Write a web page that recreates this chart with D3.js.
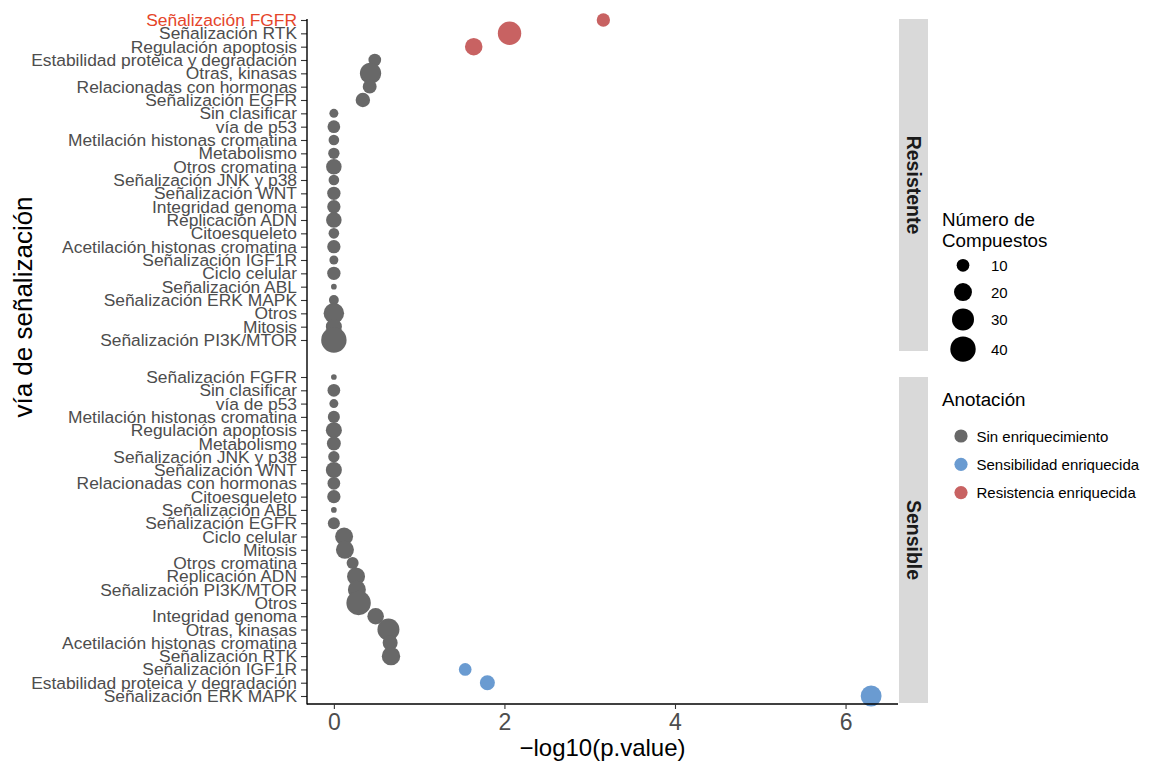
<!DOCTYPE html>
<html><head><meta charset="utf-8">
<script src="https://cdn.jsdelivr.net/npm/d3@7"></script>
<style>
body{margin:0;background:#fff}
svg{display:block}
text{font-family:"Liberation Sans", Arial, Helvetica, sans-serif}
</style>
</head><body>
<svg id="chart" width="1153" height="765"></svg>
<script>
// ---------- data ----------
const resistenteCategories = ["Señalización FGFR","Señalización RTK","Regulación apoptosis","Estabilidad proteica y degradación","Otras, kinasas","Relacionadas con hormonas","Señalización EGFR","Sin clasificar","vía de p53","Metilación histonas cromatina","Metabolismo","Otros cromatina","Señalización JNK y p38","Señalización WNT","Integridad genoma","Replicación ADN","Citoesqueleto","Acetilación histonas cromatina","Señalización IGF1R","Ciclo celular","Señalización ABL","Señalización ERK MAPK","Otros","Mitosis","Señalización PI3K/MTOR"];
const resistenteValues = [3.16,2.06,1.64,0.48,0.43,0.42,0.34,0,0,0,0,0,0,0,0,0,0,0,0,0,0,0,0,0,0];
const resistenteCounts = [11,34,19,10,28,12,13,5,10,7,8,15,7,11,11,15,7,11,5,11,2,6,26,16,40];
const resistenteAnnotation = ["Resistencia enriquecida","Resistencia enriquecida","Resistencia enriquecida","Sin enriquecimiento","Sin enriquecimiento","Sin enriquecimiento","Sin enriquecimiento","Sin enriquecimiento","Sin enriquecimiento","Sin enriquecimiento","Sin enriquecimiento","Sin enriquecimiento","Sin enriquecimiento","Sin enriquecimiento","Sin enriquecimiento","Sin enriquecimiento","Sin enriquecimiento","Sin enriquecimiento","Sin enriquecimiento","Sin enriquecimiento","Sin enriquecimiento","Sin enriquecimiento","Sin enriquecimiento","Sin enriquecimiento","Sin enriquecimiento"];

const sensibleCategories = ["Señalización FGFR","Sin clasificar","vía de p53","Metilación histonas cromatina","Regulación apoptosis","Metabolismo","Señalización JNK y p38","Señalización WNT","Relacionadas con hormonas","Citoesqueleto","Señalización ABL","Señalización EGFR","Ciclo celular","Mitosis","Otros cromatina","Replicación ADN","Señalización PI3K/MTOR","Otros","Integridad genoma","Otras, kinasas","Acetilación histonas cromatina","Señalización RTK","Señalización IGF1R","Estabilidad proteica y degradación","Señalización ERK MAPK"];
const sensibleValues = [0,0,0,0,0,0,0,0,0,0,0,0,0.12,0.13,0.22,0.26,0.27,0.29,0.49,0.64,0.66,0.67,1.54,1.80,6.30];
const sensibleCounts = [2,10,5,9,16,12,8,16,10,11,2,9,20,20,9,20,20,37,17,30,14,21,10,14,27];
const sensibleAnnotation = ["Sin enriquecimiento","Sin enriquecimiento","Sin enriquecimiento","Sin enriquecimiento","Sin enriquecimiento","Sin enriquecimiento","Sin enriquecimiento","Sin enriquecimiento","Sin enriquecimiento","Sin enriquecimiento","Sin enriquecimiento","Sin enriquecimiento","Sin enriquecimiento","Sin enriquecimiento","Sin enriquecimiento","Sin enriquecimiento","Sin enriquecimiento","Sin enriquecimiento","Sin enriquecimiento","Sin enriquecimiento","Sin enriquecimiento","Sin enriquecimiento","Sensibilidad enriquecida","Sensibilidad enriquecida","Sensibilidad enriquecida"];

const panelNames = ["Resistente","Sensible"];
const highlightedLabel = "Señalización FGFR"; // highlighted in the Resistente panel
const xTicks = [0,2,4,6];
const sizeBreaks = [10,20,30,40];
const annotationLabels = ["Sin enriquecimiento","Sensibilidad enriquecida","Resistencia enriquecida"];
const annotationColors = ["#686868","#6a9bd1","#c86262"];
const xTitle = "\u2212log10(p.value)";
const yTitle = "vía de señalización";
const sizeTitle = ["Número de","Compuestos"];
const colorTitle = "Anotación";

// ---------- layout ----------
const svg = d3.select("#chart");
const W = 1153, H = 765;
svg.append("rect").attr("width",W).attr("height",H).attr("fill","#fff");

const panelLeft = 307, panelRight = 898;
const panels = [
  {name: panelNames[0], cats: resistenteCategories, vals: resistenteValues, counts: resistenteCounts, ann: resistenteAnnotation, rowTop: 20, rowBottom: 340, stripTop: 19, stripBottom: 351},
  {name: panelNames[1], cats: sensibleCategories, vals: sensibleValues, counts: sensibleCounts, ann: sensibleAnnotation, rowTop: 377, rowBottom: 696, stripTop: 377, stripBottom: 703}
];
const axisY = 704;

const x = d3.scaleLinear().domain([-0.315, 6.615]).range([panelLeft, panelRight]);
const r = d3.scaleSqrt().domain([0, 40]).range([0, 12.7]);
const color = d3.scaleOrdinal().domain(annotationLabels).range(annotationColors);

panels.forEach((p, pi) => {
  const y = d3.scalePoint().domain(p.cats).range([p.rowTop, p.rowBottom]).padding(0);

  // points
  const data = p.cats.map((c, i) => ({cat: c, v: p.vals[i], n: p.counts[i], a: p.ann[i]}));
  svg.append("g").selectAll("circle").data(data).join("circle")
    .attr("cx", d => x(d.v))
    .attr("cy", d => y(d.cat))
    .attr("r", d => r(d.n))
    .attr("fill", d => color(d.a));

  // y axis
  const gy = svg.append("g").attr("transform", `translate(${panelLeft},0)`)
    .call(d3.axisLeft(y).tickSize(6).tickSizeOuter(0).tickPadding(4));
  gy.select(".domain").remove();
  gy.selectAll(".tick line").attr("stroke", "#333").attr("stroke-width", 1.1);
  gy.selectAll(".tick text")
    .attr("font-size", "17.4px")
    .attr("font-family", "'Liberation Sans', Arial, sans-serif")
    .attr("fill", (d, i) => (pi === 0 && d === highlightedLabel && i === 0) ? "#e5452a" : "#4d4d4d");

  // strip
  svg.append("rect")
    .attr("x", 899).attr("y", p.stripTop)
    .attr("width", 29).attr("height", p.stripBottom - p.stripTop)
    .attr("fill", "#d9d9d9");
  const cy = (p.stripTop + p.stripBottom) / 2;
  svg.append("text")
    .attr("transform", `translate(913.5,${cy}) rotate(90)`)
    .attr("text-anchor", "middle")
    .attr("dominant-baseline", "central")
    .attr("font-size", "19.5px")
    .attr("font-weight", "bold")
    .attr("fill", "#1a1a1a")
    .text(p.name);
});

// axis lines
svg.append("line").attr("x1", panelLeft).attr("x2", panelLeft).attr("y1", 19).attr("y2", axisY + 0.5)
  .attr("stroke", "#000").attr("stroke-width", 1.4);
svg.append("line").attr("x1", panelLeft).attr("x2", panelRight).attr("y1", axisY).attr("y2", axisY)
  .attr("stroke", "#000").attr("stroke-width", 1.4);

// x axis
const gx = svg.append("g").attr("transform", `translate(0,${axisY})`)
  .call(d3.axisBottom(x).tickValues(xTicks).tickFormat(d3.format("d")).tickSize(5).tickSizeOuter(0).tickPadding(5));
gx.select(".domain").remove();
gx.selectAll(".tick line").attr("stroke", "#333").attr("stroke-width", 1.1);
gx.selectAll(".tick text").attr("font-size", "23px").attr("fill", "#4d4d4d")
  .attr("font-family", "'Liberation Sans', Arial, sans-serif");

// titles
svg.append("text").attr("x", (panelLeft + panelRight) / 2).attr("y", 756)
  .attr("text-anchor", "middle").attr("font-size", "24px").attr("fill", "#000").text(xTitle);
svg.append("text").attr("transform", "translate(32,307) rotate(-90)")
  .attr("text-anchor", "middle").attr("font-size", "26px").attr("fill", "#000").text(yTitle);

// size legend
const lg = svg.append("g");
sizeTitle.forEach((t, i) => {
  lg.append("text").attr("x", 942).attr("y", 226 + i * 20.5).attr("font-size", "18.8px").attr("fill", "#000").text(t);
});
let yy = 252;
sizeBreaks.forEach((b, i) => {
  const h = Math.max(26.7, 2 * r(b) + 6);
  const c = yy + h / 2;
  lg.append("circle").attr("cx", 963).attr("cy", c).attr("r", r(b)).attr("fill", "#000");
  lg.append("text").attr("x", 991).attr("y", c).attr("dominant-baseline", "central")
    .attr("font-size", "15px").attr("fill", "#000").text(b);
  yy += h;
});

// color legend
lg.append("text").attr("x", 942).attr("y", 406).attr("font-size", "18.8px").attr("fill", "#000").text(colorTitle);
annotationLabels.forEach((a, i) => {
  const c = 436 + i * 28.3;
  lg.append("circle").attr("cx", 961).attr("cy", c).attr("r", 6.6).attr("fill", color(a));
  lg.append("text").attr("x", 976.5).attr("y", c).attr("dominant-baseline", "central")
    .attr("font-size", "15px").attr("fill", "#000").text(a);
});
</script>
</body></html>
